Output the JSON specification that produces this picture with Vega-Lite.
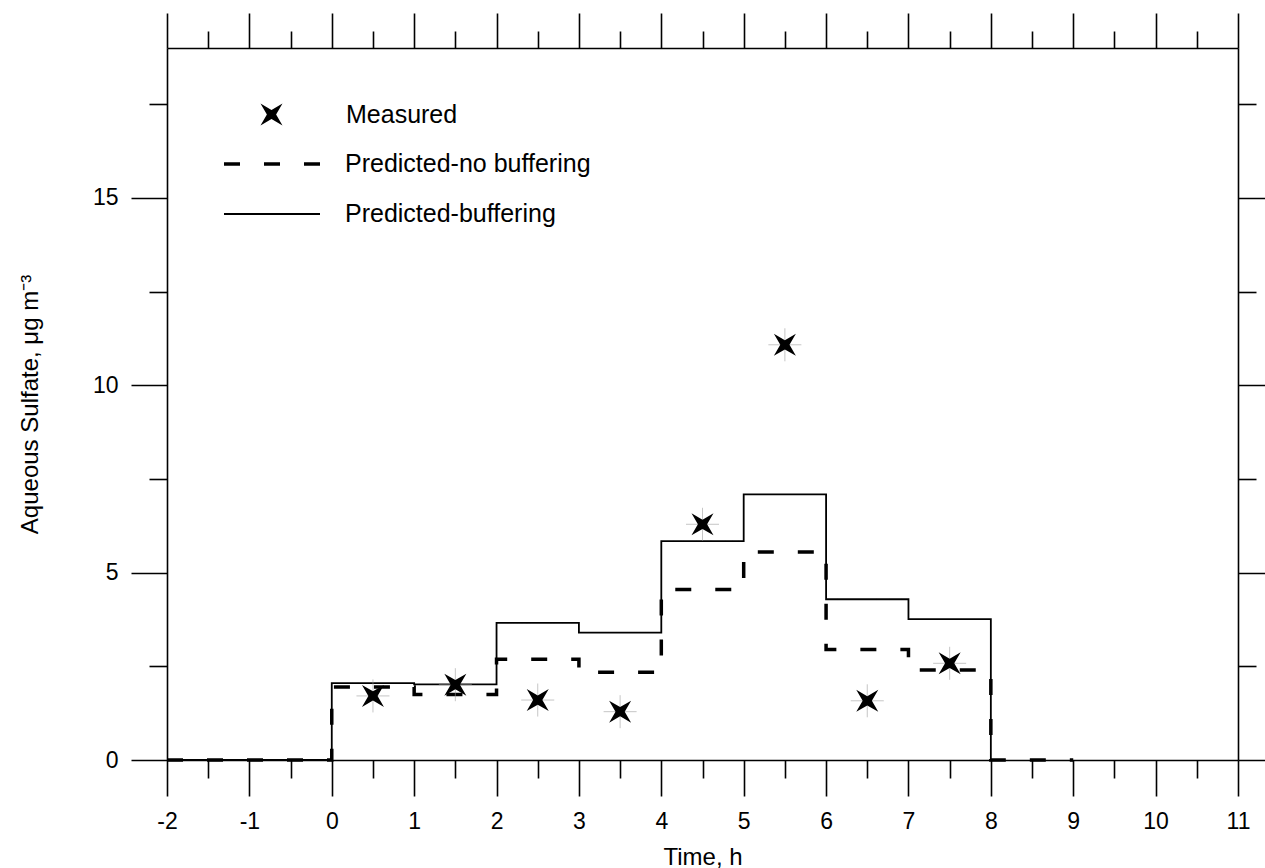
{
  "$schema": "https://vega.github.io/schema/vega-lite/v6.json",
  "width": 1071,
  "height": 712,
  "autosize": "none",
  "padding": {"left": 167, "top": 48, "right": 27, "bottom": 108},
  "background": "white",
  "config": {
    "view": {"stroke": null},
    "font": "Liberation Sans",
    "axis": {
      "domainColor": "black",
      "domainWidth": 1.6,
      "tickColor": "black",
      "tickWidth": 1.6,
      "labelColor": "black",
      "titleColor": "black",
      "labelFont": "Liberation Sans",
      "titleFont": "Liberation Sans",
      "labelFontSize": 23,
      "titleFontSize": 24,
      "titleFontWeight": "normal",
      "labelOverlap": false,
      "labelFlush": false,
      "grid": false
    },
    "legend": {
      "orient": "none",
      "labelFont": "Liberation Sans",
      "labelFontSize": 25,
      "labelColor": "black",
      "labelLimit": 0,
      "padding": 0
    }
  },
  "datasets": {
    "pred": [
      {"t": -2, "v": 0, "series": "Predicted-buffering"},
      {"t": 0, "v": 2.05, "series": "Predicted-buffering"},
      {"t": 1, "v": 2.02, "series": "Predicted-buffering"},
      {"t": 2, "v": 3.66, "series": "Predicted-buffering"},
      {"t": 3, "v": 3.40, "series": "Predicted-buffering"},
      {"t": 4, "v": 5.84, "series": "Predicted-buffering"},
      {"t": 5, "v": 7.09, "series": "Predicted-buffering"},
      {"t": 6, "v": 4.29, "series": "Predicted-buffering"},
      {"t": 7, "v": 3.76, "series": "Predicted-buffering"},
      {"t": 8, "v": 0, "series": "Predicted-buffering"},
      {"t": -2, "v": 0, "series": "Predicted-no buffering"},
      {"t": 0, "v": 1.95, "series": "Predicted-no buffering"},
      {"t": 1, "v": 1.75, "series": "Predicted-no buffering"},
      {"t": 2, "v": 2.69, "series": "Predicted-no buffering"},
      {"t": 3, "v": 2.34, "series": "Predicted-no buffering"},
      {"t": 4, "v": 4.55, "series": "Predicted-no buffering"},
      {"t": 5, "v": 5.55, "series": "Predicted-no buffering"},
      {"t": 6, "v": 2.95, "series": "Predicted-no buffering"},
      {"t": 7, "v": 2.40, "series": "Predicted-no buffering"},
      {"t": 8, "v": 0, "series": "Predicted-no buffering"},
      {"t": 9, "v": 0, "series": "Predicted-no buffering"}
    ],
    "meas": [
      {"t": 0.5, "v": 1.71, "series": "Measured"},
      {"t": 1.5, "v": 2.01, "series": "Measured"},
      {"t": 2.5, "v": 1.60, "series": "Measured"},
      {"t": 3.5, "v": 1.29, "series": "Measured"},
      {"t": 4.5, "v": 6.29, "series": "Measured"},
      {"t": 5.5, "v": 11.08, "series": "Measured"},
      {"t": 6.5, "v": 1.58, "series": "Measured"},
      {"t": 7.5, "v": 2.58, "series": "Measured"}
    ]
  },
  "layer": [
    {
      "data": {"name": "pred"},
      "mark": {"type": "line", "interpolate": "step-after", "color": "black", "strokeCap": "butt"},
      "encoding": {
        "x": {
          "field": "t", "type": "quantitative",
          "scale": {"domain": [-2, 11], "nice": false, "zero": false},
          "axis": {
            "orient": "bottom",
            "values": [-2, -1.5, -1, -0.5, 0, 0.5, 1, 1.5, 2, 2.5, 3, 3.5, 4, 4.5, 5, 5.5, 6, 6.5, 7, 7.5, 8, 8.5, 9, 9.5, 10, 10.5, 11],
            "tickSize": {"condition": {"test": "datum.value % 1 === 0", "value": 36}, "value": 18},
            "labelExpr": "datum.value % 1 === 0 ? '' + datum.value : ''",
            "labelPadding": 14,
            "title": "Time, h",
            "titlePadding": 12
          }
        },
        "y": {
          "field": "v", "type": "quantitative",
          "scale": {"domain": [0, 19], "nice": false},
          "axis": {
            "orient": "left",
            "values": [0, 2.5, 5, 7.5, 10, 12.5, 15, 17.5],
            "tickSize": {"condition": {"test": "datum.value % 5 === 0", "value": 36}, "value": 18},
            "labelExpr": "datum.value % 5 === 0 ? '' + datum.value : ''",
            "labelPadding": 13,
            "title": "Aqueous Sulfate, μg m⁻³",
            "titlePadding": 50
          }
        },
        "strokeDash": {
          "field": "series", "type": "nominal",
          "scale": {"domain": ["Predicted-no buffering", "Predicted-buffering"], "range": [[16, 24], [1, 0]]},
          "legend": {"title": null, "legendX": 79, "legendY": 90, "symbolType": "M-2,0L2,0", "symbolSize": 2304, "labelOffset": 47, "rowPadding": 12, "symbolStrokeColor": "black"}
        },
        "strokeWidth": {
          "field": "series", "type": "nominal",
          "scale": {"type": "ordinal", "domain": ["Predicted-no buffering", "Predicted-buffering"], "range": [3.5, 1.8]},
          "legend": {"title": null, "legendX": 79, "legendY": 90, "symbolType": "M-2,0L2,0", "symbolSize": 2304, "labelOffset": 47, "rowPadding": 12, "symbolStrokeColor": "black"}
        }
      }
    },
    {
      "data": {"name": "meas"},
      "mark": {"type": "point", "shape": "M-1,0L1,0M0,-1L0,1", "size": 1089, "filled": false, "color": "#9a9a9a", "strokeWidth": 0.8},
      "encoding": {
        "x": {"field": "t", "type": "quantitative", "axis": null},
        "y": {"field": "v", "type": "quantitative", "axis": null}
      }
    },
    {
      "data": {"name": "meas"},
      "mark": {"type": "point", "filled": true, "color": "black", "size": 484, "strokeWidth": 0.8, "opacity": 1},
      "encoding": {
        "x": {
          "field": "t", "type": "quantitative",
          "axis": {
            "orient": "top",
            "values": [-2, -1.5, -1, -0.5, 0, 0.5, 1, 1.5, 2, 2.5, 3, 3.5, 4, 4.5, 5, 5.5, 6, 6.5, 7, 7.5, 8, 8.5, 9, 9.5, 10, 10.5, 11],
            "tickSize": {"condition": {"test": "datum.value % 1 === 0", "value": 35}, "value": 17},
            "labels": false,
            "title": null
          }
        },
        "y": {
          "field": "v", "type": "quantitative",
          "axis": {
            "orient": "right",
            "values": [0, 2.5, 5, 7.5, 10, 12.5, 15, 17.5],
            "tickSize": {"condition": {"test": "datum.value % 5 === 0", "value": 36}, "value": 18},
            "labels": false,
            "title": null
          }
        },
        "shape": {
          "field": "series", "type": "nominal",
          "scale": {
            "domain": ["Measured"],
            "range": ["M-1,-1L0,-0.42L1,-1L0.42,0L1,1L0,0.42L-1,1L-0.42,0Z"]
          },
          "legend": {"title": null, "legendX": 92, "legendY": 54, "symbolSize": 484, "labelOffset": 62, "symbolFillColor": "black", "symbolStrokeColor": "black"}
        }
      }
    }
  ],
  "resolve": {"axis": {"x": "independent", "y": "independent"}}
}
